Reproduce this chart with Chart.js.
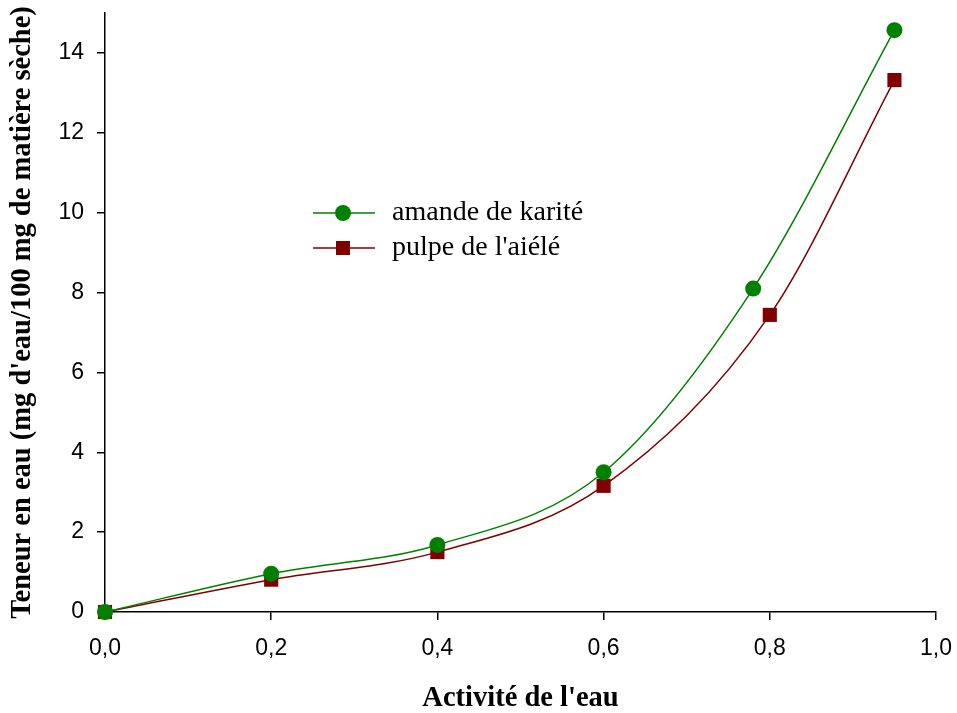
<!DOCTYPE html>
<html>
<head>
<meta charset="utf-8">
<script src="https://cdn.jsdelivr.net/npm/chart.js@4/dist/chart.umd.min.js"></script>
<style>
html,body{margin:0;padding:0;background:#fff;}
#wrap{width:957px;height:713px;}
</style>
</head>
<body>
<div id="wrap"><canvas id="c" width="957" height="713"></canvas></div>
<script>
const seriesNames = ["amande de karité", "pulpe de l'aiélé"];
const karitéX = [0, 0.2, 0.4, 0.6, 0.78, 0.95];
const karitéY = [0, 0.96, 1.68, 3.5, 8.1, 14.57];
const aieleX = [0, 0.2, 0.4, 0.6, 0.8, 0.95];
const aieleY = [0, 0.81, 1.5, 3.16, 7.44, 13.32];
const xTicks = [0, 0.2, 0.4, 0.6, 0.8, 1.0];
const xTickLabels = ["0,0", "0,2", "0,4", "0,6", "0,8", "1,0"];
const yTicks = [0, 2, 4, 6, 8, 10, 12, 14];
const yTickLabels = ["0", "2", "4", "6", "8", "10", "12", "14"];
const xTitle = "Activité de l'eau";
const yTitle = "Teneur en eau (mg d'eau/100 mg de matière sèche)";

const GREEN = '#008000', RED = '#800000';
const toPts = (xs, ys) => xs.map((x, i) => ({x: x, y: ys[i]}));

const legendPlugin = {
  id: 'customLegend',
  afterDraw(chart) {
    const ctx = chart.ctx;
    const rows = [213, 248];
    chart.data.datasets.forEach((ds, i) => {
      const y = rows[i];
      ctx.save();
      ctx.strokeStyle = ds.borderColor;
      ctx.lineWidth = 1.5;
      ctx.beginPath(); ctx.moveTo(313, y); ctx.lineTo(375, y); ctx.stroke();
      ctx.fillStyle = ds.pointBackgroundColor;
      if (ds.pointStyle === 'circle') {
        ctx.beginPath(); ctx.arc(343, y, 8, 0, Math.PI * 2); ctx.fill();
      } else {
        ctx.fillRect(343 - 7, y - 7, 14, 14);
      }
      ctx.fillStyle = '#000';
      ctx.font = '28px "Liberation Serif"';
      ctx.textBaseline = 'middle';
      ctx.textAlign = 'left';
      ctx.fillText(ds.label, 392, y);
      ctx.restore();
    });
  }
};

new Chart(document.getElementById('c'), {
  type: 'line',
  data: {
    datasets: [
      {label: seriesNames[0], data: toPts(karitéX, karitéY), borderColor: GREEN, backgroundColor: GREEN,
       pointBackgroundColor: GREEN, pointBorderColor: GREEN, pointStyle: 'circle', pointRadius: 8, pointBorderWidth: 0,
       borderWidth: 1.5, cubicInterpolationMode: 'monotone', clip: false},
      {label: seriesNames[1], data: toPts(aieleX, aieleY), borderColor: RED, backgroundColor: RED,
       pointBackgroundColor: RED, pointBorderColor: RED, pointStyle: 'rect', pointRadius: 10, pointBorderWidth: 0,
       borderWidth: 1.5, cubicInterpolationMode: 'monotone', clip: false}
    ]
  },
  options: {
    responsive: false,
    animation: false,
    layout: {padding: {top: 13, right: 21, bottom: 0, left: 0}},
    plugins: {legend: {display: false}, tooltip: {enabled: false}},
    scales: {
      x: {
        type: 'linear', min: 0, max: 1,
        afterBuildTicks: s => { s.ticks = xTicks.map(v => ({value: v})); },
        afterFit: s => { s.height = 101; s.paddingLeft = 0; s.paddingRight = 0; },
        ticks: {
          callback: (v) => { const i = xTicks.findIndex(t => Math.abs(t - v) < 1e-9); return i >= 0 ? xTickLabels[i] : ''; },
          color: '#000', font: {family: '"Liberation Sans"', size: 23}, padding: 15, maxRotation: 0, autoSkip: false
        },
        grid: {drawOnChartArea: false, drawTicks: true, tickLength: 8, color: '#000', lineWidth: 1.5},
        border: {color: '#000', width: 1.5},
        title: {display: true, text: xTitle, color: '#000', font: {family: '"Liberation Serif"', size: 28.5, weight: 'bold', lineHeight: 1}, padding: {top: 0, bottom: 0}}
      },
      y: {
        type: 'linear', min: 0, max: 15,
        afterBuildTicks: s => { s.ticks = yTicks.map(v => ({value: v})); },
        afterFit: s => { s.width = 105; s.paddingTop = 0; s.paddingBottom = 0; },
        ticks: {
          callback: (v) => { const i = yTicks.indexOf(v); return i >= 0 ? yTickLabels[i] : ''; },
          color: '#000', font: {family: '"Liberation Sans"', size: 23}, padding: 13, autoSkip: false
        },
        grid: {drawOnChartArea: false, drawTicks: true, tickLength: 8, color: '#000', lineWidth: 1.5},
        border: {color: '#000', width: 1.5},
        title: {display: true, text: yTitle, color: '#000', font: {family: '"Liberation Serif"', size: 28.5, weight: 'bold'}, padding: {top: 6, bottom: 0}}
      }
    }
  },
  plugins: [legendPlugin]
});
</script>
</body>
</html>
